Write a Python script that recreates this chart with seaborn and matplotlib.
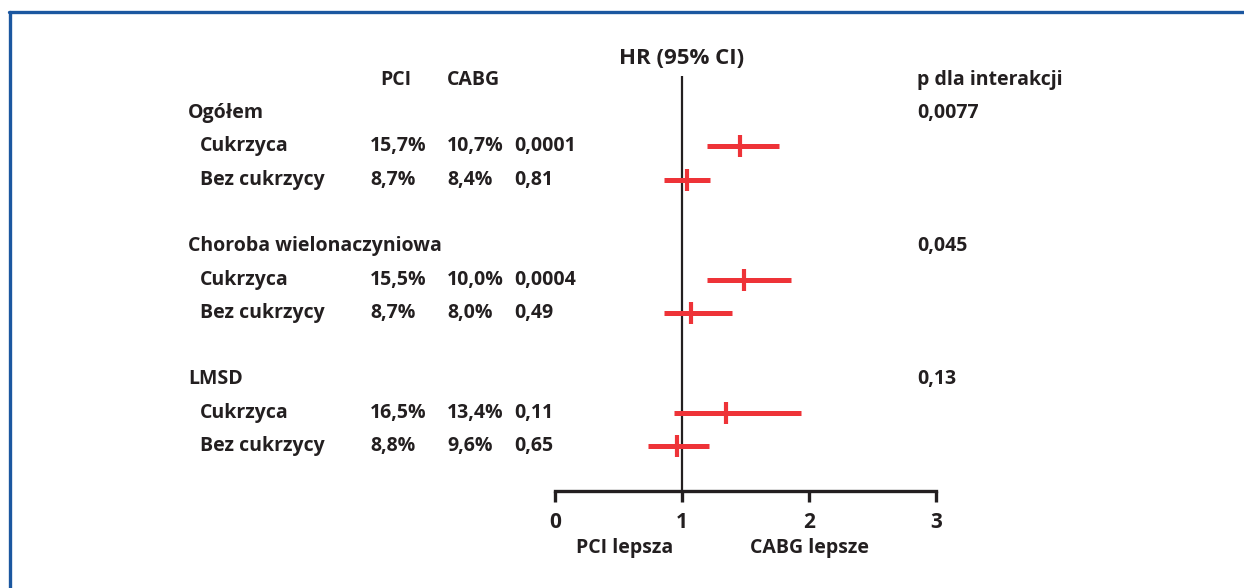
import matplotlib
matplotlib.use("Agg")
import matplotlib.pyplot as plt
import matplotlib.transforms as mtransforms
from matplotlib.lines import Line2D
import seaborn as sns

# data
groups = ["Ogółem", "Choroba wielonaczyniowa", "LMSD"]
p_interaction = ["0,0077", "0,045", "0,13"]
subgroups = ["Cukrzyca", "Bez cukrzycy", "Cukrzyca", "Bez cukrzycy", "Cukrzyca", "Bez cukrzycy"]
pci_rate = ["15,7%", "8,7%", "15,5%", "8,7%", "16,5%", "8,8%"]
cabg_rate = ["10,7%", "8,4%", "10,0%", "8,0%", "13,4%", "9,6%"]
p_values = ["0,0001", "0,81", "0,0004", "0,49", "0,11", "0,65"]
hr = [1.46, 1.04, 1.49, 1.07, 1.35, 0.96]
ci_low = [1.20, 0.86, 1.20, 0.86, 0.94, 0.73]
ci_high = [1.76, 1.22, 1.86, 1.39, 1.94, 1.21]
x_ticks = [0, 1, 2, 3]

sns.set_theme(style="white")
plt.rcParams["font.family"] = ["Open Sans", "DejaVu Sans"]

dark = "#231f20"
red = "#ee3338"
fs = 14
fw = "bold"

# row layout: group header then two subgroup rows, blank row between groups
group_rows = [0, 4, 8]
sub_rows = [1, 2, 5, 6, 9, 10]

fig = plt.figure(figsize=(12.44, 5.88), dpi=100)
ax = fig.add_axes([555 / 1244, 1 - 491 / 588, 381 / 1244, (491 - 76) / 588])
ax.set_xlim(0, 3)
ax.set_ylim(11.35, -1.11)

# confidence intervals and point estimates
ax.hlines(sub_rows, ci_low, ci_high, color=red, lw=3.6, zorder=3)
sns.scatterplot(x=hr, y=sub_rows, marker="|", s=230, color=red, linewidth=3, ax=ax, zorder=4)

# reference line at HR = 1
ax.axvline(1, color=dark, lw=1.6, zorder=2)

for side in ["left", "right", "top"]:
    ax.spines[side].set_visible(False)
ax.spines["bottom"].set_color(dark)
ax.spines["bottom"].set_linewidth(2.4)
ax.set_yticks([])
ax.set_xticks(x_ticks)
ax.set_xticklabels([str(t) for t in x_ticks], fontsize=fs + 1, fontweight=fw, color=dark)
ax.tick_params(axis="x", direction="out", length=8, width=2.4, color=dark, pad=7, bottom=True)

ax.text(1, -1.65, "HR (95% CI)", ha="center", va="center", fontsize=fs + 2, fontweight=fw, color=dark, clip_on=False)
ax.text(0.55, 13.06, "PCI lepsza", ha="center", va="center", fontsize=fs, fontweight=fw, color=dark, clip_on=False)
ax.text(2.0, 13.06, "CABG lepsze", ha="center", va="center", fontsize=fs, fontweight=fw, color=dark, clip_on=False)

# table text, x in figure pixels, y in row units
tr = mtransforms.blended_transform_factory(fig.transFigure, ax.transData)


def put(xpix, row, s):
    ax.text(xpix / 1244, row, s, transform=tr, ha="left", va="center", fontsize=fs,
            fontweight=fw, color=dark, clip_on=False)


put(380, -1, "PCI")
put(447, -1, "CABG")
put(917, -1, "p dla interakcji")

for g, r, p in zip(groups, group_rows, p_interaction):
    put(188, r, g)
    put(917, r, p)

for name, r, a, b, p in zip(subgroups, sub_rows, pci_rate, cabg_rate, p_values):
    put(200, r, name)
    put(370, r, a)
    put(447, r, b)
    put(514, r, p)

# blue frame (top and left edges)
blue = "#1b57a0"
fig.add_artist(Line2D([9 / 1244, 1], [1 - 12 / 588, 1 - 12 / 588], color=blue, lw=2.4, transform=fig.transFigure))
fig.add_artist(Line2D([9.5 / 1244, 9.5 / 1244], [0, 1 - 12 / 588], color=blue, lw=2.4, transform=fig.transFigure))

plt.savefig("out.png", dpi=100)
